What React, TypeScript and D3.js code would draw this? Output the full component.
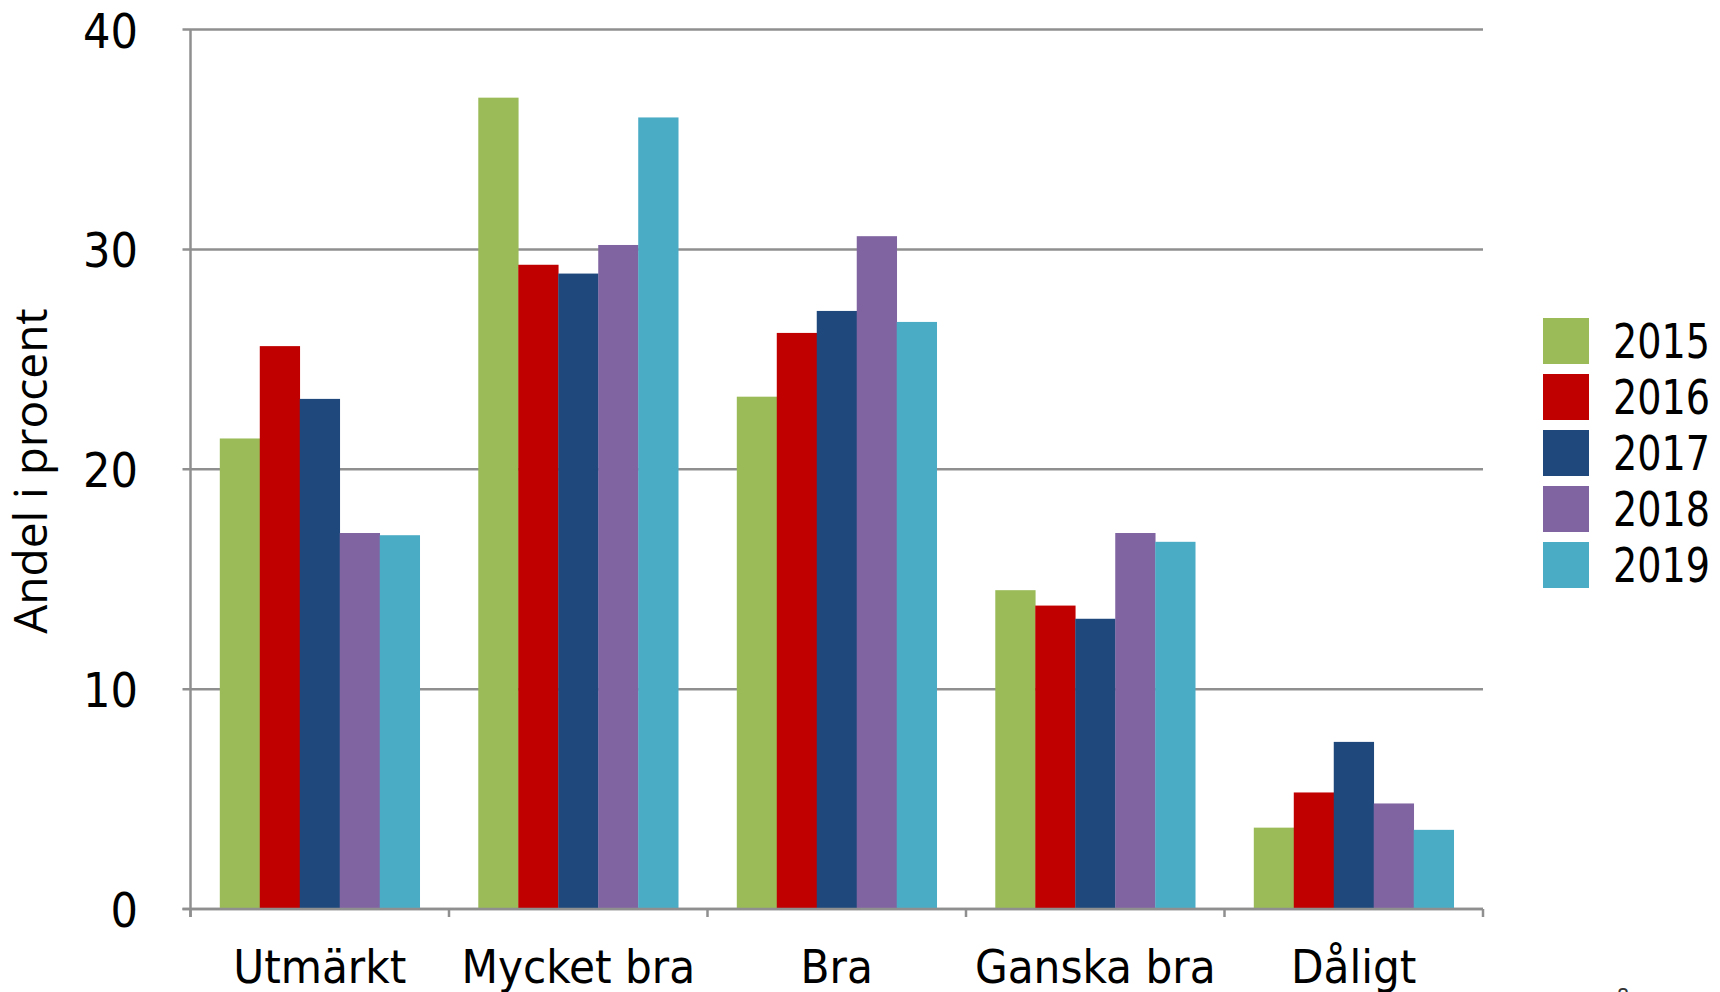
import React from "react";
import * as d3 from "d3";

const categories = ["Utmärkt", "Mycket bra", "Bra", "Ganska bra", "Dåligt"];
const years = ["2015", "2016", "2017", "2018", "2019"];
const values2015 = [21.4, 36.9, 23.3, 14.5, 3.7];
const values2016 = [25.6, 29.3, 26.2, 13.8, 5.3];
const values2017 = [23.2, 28.9, 27.2, 13.2, 7.6];
const values2018 = [17.1, 30.2, 30.6, 17.1, 4.8];
const values2019 = [17.0, 36.0, 26.7, 16.7, 3.6];
const yTicks = [0, 10, 20, 30, 40];
const colors = ["#9BBB59", "#C00000", "#1F497D", "#8064A2", "#4BACC6"];

const seriesValues = [values2015, values2016, values2017, values2018, values2019];

const W = 1720;
const H = 992;
const left = 190.5;
const right = 1483;
const top = 29.5;
const bottom = 909;
const axisColor = "#8f8f8f";
const tickFont = "'DejaVu Sans Condensed', 'DejaVu Sans', sans-serif";

export default function App() {
  const y = d3.scaleLinear().domain([0, 40]).range([bottom, top]);
  const pInner = 0.2266;
  const x = d3
    .scaleBand<string>()
    .domain(categories)
    .range([left, right])
    .paddingInner(pInner)
    .paddingOuter(pInner / 2);
  const step = x.step();
  const xs = d3.scaleBand<string>().domain(years).range([0, x.bandwidth()]).padding(0);
  const boundaries = d3.range(categories.length + 1).map((i) => left + i * step);

  return (
    <svg
      width={W}
      height={H}
      style={{ position: "absolute", left: 0, top: 0, background: "#fff" }}
    >
      <rect x={0} y={0} width={W} height={H} fill="#fff" />
      {/* gridlines */}
      {yTicks.map((t) => (
        <line
          key={"g" + t}
          x1={left - 8}
          x2={right}
          y1={y(t)}
          y2={y(t)}
          stroke={axisColor}
          strokeWidth={2.5}
        />
      ))}
      {/* bars */}
      {categories.map((c, ci) =>
        years.map((yr, si) => (
          <rect
            key={c + yr}
            x={(x(c) as number) + (xs(yr) as number)}
            y={y(seriesValues[si][ci])}
            width={xs.bandwidth() + 0.3}
            height={y(0) - y(seriesValues[si][ci])}
            fill={colors[si]}
          />
        ))
      )}
      {/* axes */}
      <line x1={left} x2={left} y1={top} y2={bottom + 8} stroke={axisColor} strokeWidth={2.5} />
      <line x1={left - 8} x2={right} y1={y(0)} y2={y(0)} stroke={axisColor} strokeWidth={2.5} />
      {boundaries.map((b, i) => (
        <line key={"xt" + i} x1={b} x2={b} y1={bottom} y2={bottom + 8} stroke={axisColor} strokeWidth={2.5} />
      ))}
      {/* y tick labels */}
      {yTicks.map((t) => (
        <text
          key={"yl" + t}
          x={138}
          y={y(t) + 18}
          textAnchor="end"
          fontFamily={tickFont}
          fontSize={48}
          fill="#000"
        >
          {t}
        </text>
      ))}
      {/* category labels */}
      {categories.map((c) => (
        <text
          key={"cl" + c}
          x={(x(c) as number) + x.bandwidth() / 2}
          y={983}
          textAnchor="middle"
          fontFamily={tickFont}
          fontSize={47}
          fill="#000"
        >
          {c}
        </text>
      ))}
      {/* y axis title */}
      <text
        transform={`translate(47, 471) rotate(-90)`}
        textAnchor="middle"
        fontFamily="'Open Sans', sans-serif"
        fontSize={46}
        fill="#000"
      >
        Andel i procent
      </text>
      {/* legend */}
      {years.map((yr, i) => (
        <g key={"lg" + yr} transform={`translate(1543, ${318 + i * 56})`}>
          <rect x={0} y={0} width={46} height={46} fill={colors[i]} />
          <text
            x={70}
            y={40}
            fontFamily={tickFont}
            fontSize={48}
            fill="#000"
            textLength={97}
            lengthAdjust="spacingAndGlyphs"
          >
            {yr}
          </text>
        </g>
      ))}
      {/* partially visible page number */}
      <text x={1623} y={1004} textAnchor="middle" fontFamily={tickFont} fontSize={22} fill="#333">
        8
      </text>
    </svg>
  );
}
